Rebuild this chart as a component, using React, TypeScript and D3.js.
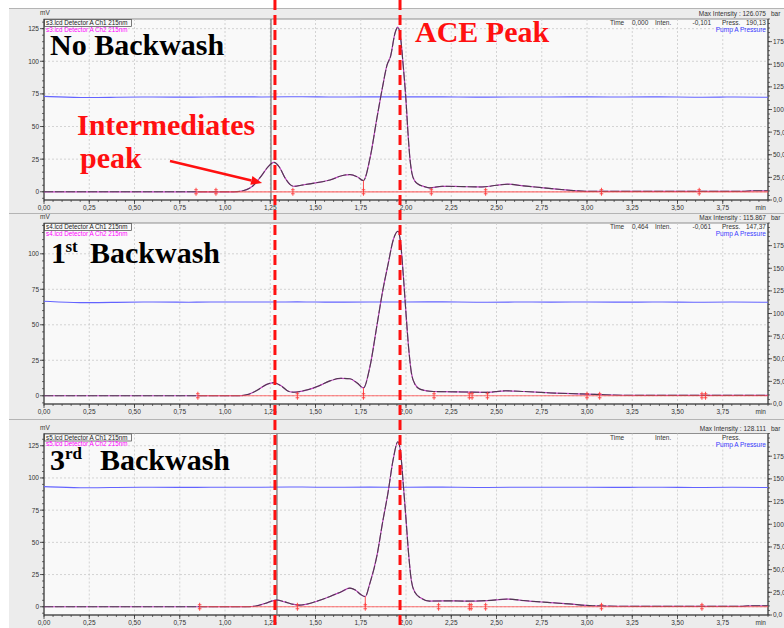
import React from "react";
import * as d3 from "d3";

type Pt = [number, number];

// Retention-time axis (min)
const timeTicks = [0, 0.25, 0.5, 0.75, 1, 1.25, 1.5, 1.75, 2, 2.25, 2.5, 2.75, 3, 3.25, 3.5, 3.75];
const pressureTicks = [0, 25, 50, 75, 100, 125, 150, 175];

// Detector signal (mV) per run, [time, mV]
const noBackwashTrace: Pt[] = [
  [0, 0], [1.05, 0], [1.1, 0.8], [1.15, 4], [1.2, 12], [1.24, 19.5], [1.27, 22.5], [1.3, 19],
  [1.33, 11], [1.36, 5.5], [1.38, 4.2], [1.42, 5], [1.5, 6.8], [1.58, 9], [1.65, 12.5], [1.69, 13.2],
  [1.73, 11.5], [1.765, 8.6], [1.8, 25], [1.84, 57], [1.87, 80], [1.895, 97], [1.915, 104], [1.94, 122],
  [1.955, 126.1], [1.97, 118], [1.985, 96], [2.0, 70], [2.011, 45], [2.022, 25], [2.033, 14], [2.05, 8],
  [2.066, 6], [2.1, 4], [2.13, 3], [2.2, 4.2], [2.3, 4], [2.42, 3.7], [2.5, 5], [2.56, 5.8], [2.65, 4.5],
  [2.75, 3.2], [2.9, 1.2], [3.0, 0.3], [3.86, 0.3], [3.92, 0.8], [4.0, 0.8],
];
const firstBackwashTrace: Pt[] = [
  [0, 0], [1.08, 0], [1.13, 1], [1.18, 4], [1.23, 8], [1.27, 9.2], [1.31, 7], [1.35, 3.2], [1.38, 2.5],
  [1.45, 4], [1.52, 7], [1.58, 10.5], [1.64, 12.3], [1.69, 12], [1.73, 9], [1.765, 5.5], [1.8, 20],
  [1.84, 50], [1.87, 73], [1.9, 92], [1.93, 110], [1.955, 115.9], [1.97, 108], [1.985, 85], [2.0, 58],
  [2.015, 33], [2.03, 16], [2.05, 8], [2.08, 4.5], [2.15, 3], [2.25, 2.8], [2.35, 2.6], [2.45, 2.4],
  [2.55, 3.5], [2.65, 3], [2.8, 2], [3.0, 1.2], [3.1, 0.7], [3.3, 0.3], [4.0, 0.3],
];
const thirdBackwashTrace: Pt[] = [
  [0, 0], [1.12, 0], [1.17, 0.6], [1.22, 2.5], [1.285, 5.2], [1.33, 3.8], [1.38, 1.8], [1.41, 1.3],
  [1.46, 2.3], [1.51, 4.4], [1.58, 8], [1.64, 11.5], [1.69, 14.5], [1.72, 13], [1.75, 9.5], [1.775, 7.9],
  [1.8, 18], [1.84, 40], [1.87, 65], [1.9, 88], [1.93, 115], [1.955, 128.1], [1.97, 120], [1.985, 95],
  [2.0, 68], [2.015, 40], [2.03, 20], [2.05, 11], [2.08, 7], [2.13, 4.4], [2.25, 4.6], [2.32, 4.4],
  [2.45, 4.8], [2.56, 6], [2.65, 4.8], [2.78, 3.4], [2.9, 2.2], [3.03, 0.8], [3.3, 0.3], [3.85, 0.3],
  [3.9, 0.8], [4.0, 0.8],
];

// Pump A pressure (bar), sampled every 0.2 min
const pressureTimes = [0, 0.2, 0.4, 0.6, 0.8, 1, 1.2, 1.4, 1.6, 1.8, 2, 2.2, 2.4, 2.6, 2.8, 3, 3.2, 3.4, 3.6, 3.8, 4];
const noBackwashPressure = [114.5, 112.8, 113.6, 113.9, 113.5, 114.2, 113.7, 114.3, 113.6, 114.1, 113.8, 114.2, 113.4, 114.0, 113.7, 114.1, 113.6, 114.2, 113.3, 114.0, 113.5];
const firstBackwashPressure = [113.5, 111.6, 112.4, 112.8, 112.3, 112.9, 112.5, 113.0, 112.4, 112.9, 112.6, 113.0, 112.2, 112.8, 112.5, 112.9, 112.3, 113.0, 112.2, 112.8, 112.4];
const thirdBackwashPressure = [141.5, 139.8, 140.6, 140.9, 140.4, 141.0, 140.6, 141.2, 140.5, 141.0, 140.7, 141.1, 140.3, 140.9, 140.6, 141.0, 140.4, 141.1, 140.3, 140.9, 140.5];

// Integration marks on the baseline (min)
const noBackwashMarks = [0.84, 0.95, 1.375, 1.765, 2.14, 2.44, 3.08, 3.62];
const firstBackwashMarks = [0.85, 1.4, 1.765, 2.155, 2.35, 2.365, 2.45, 3.0, 3.07, 3.635, 3.655];
const thirdBackwashMarks = [0.86, 1.4, 1.775, 2.18, 2.35, 2.36, 2.44, 3.08, 3.635];
const dropLineTimes = [1.765, 1.765, 1.775];

const leftTicksNo = [0, 25, 50, 75, 100, 125];
const leftTicksFirst = [0, 25, 50, 75, 100];
const leftTicksThird = [0, 25, 50, 75, 100, 125];

const maxIntensities = ["126.075", "115.867", "128.111"];
const cursorTimes = ["0,000", "0,464", ""];
const cursorIntens = ["-0,101", "-0,061", ""];
const cursorPress = ["190,13", "147,37", ""];
const fileNames = ["s3.lcd", "s4.lcd", "s5.lcd"];

// Vertical reference lines (min): intermediates and ACE retention times
const referenceTimes = [1.276, 1.967];
const cursorLineTimes = [1.254, null, 1.287];

const X_MAX = 4.0;
const PLOT_LEFT = 44;
const PLOT_RIGHT = 768;
const SANS = "'Liberation Sans', Arial, sans-serif";
const SERIF = "'Liberation Serif', 'Times New Roman', serif";
const RED = "#ff1010";

const x = d3.scaleLinear().domain([0, X_MAX]).range([PLOT_LEFT, PLOT_RIGHT]);

type PanelCfg = {
  idx: number;
  boxTop: number;
  boxBottom: number;
  top: number;
  bottom: number;
  yDomain: [number, number];
  leftTicks: number[];
  trace: Pt[];
  pressure: number[];
  marks: number[];
  baselineStart: number;
};

const panels: PanelCfg[] = [
  { idx: 0, boxTop: 8, boxBottom: 213, top: 19, bottom: 200, yDomain: [-6.3, 132.4], leftTicks: leftTicksNo, trace: noBackwashTrace, pressure: noBackwashPressure, marks: noBackwashMarks, baselineStart: 0.84 },
  { idx: 1, boxTop: 213, boxBottom: 419, top: 223, bottom: 404, yDomain: [-5.8, 121.7], leftTicks: leftTicksFirst, trace: firstBackwashTrace, pressure: firstBackwashPressure, marks: firstBackwashMarks, baselineStart: 0.85 },
  { idx: 2, boxTop: 419, boxBottom: 640, top: 433.5, bottom: 615, yDomain: [-6.4, 134.5], leftTicks: leftTicksThird, trace: thirdBackwashTrace, pressure: thirdBackwashPressure, marks: thirdBackwashMarks, baselineStart: 0.86 },
];

const fmtTime = (t: number) => t.toFixed(2).replace(".", ",");
const fmtBar = (v: number) => v.toFixed(1).replace(".", ",");

function Panel({ cfg }: { cfg: PanelCfg }) {
  const y = d3.scaleLinear().domain(cfg.yDomain).range([cfg.bottom, cfg.top]);
  const yP = d3.scaleLinear().domain([0, 200]).range([cfg.bottom, cfg.top]);
  const line = d3.line<Pt>().x((d) => x(d[0])).y((d) => y(d[1])).curve(d3.curveMonotoneX);
  const pLine = d3
    .line<number>()
    .x((_, i) => x(pressureTimes[i]))
    .y((d) => yP(d))
    .curve(d3.curveBasis);
  const clipId = `clip-${cfg.idx}`;
  const minorY = d3.range(-5, cfg.yDomain[1], 5);
  const minorX = d3.range(0, X_MAX + 0.001, 0.05);
  const minorP = d3.range(0, 201, 5);
  const dropT = dropLineTimes[cfg.idx];
  const dropPt = cfg.trace.find((d) => Math.abs(d[0] - dropT) < 1e-6);
  const y0 = y(0);
  const cursorT = cursorLineTimes[cfg.idx];
  const hdrY = cfg.top + 6;
  const tracePath = line(cfg.trace) || "";
  return (
    <g>
      <rect x={9} y={cfg.boxTop} width={775} height={cfg.boxBottom - cfg.boxTop} fill="#ececec" />
      <line x1={9} x2={784} y1={cfg.boxTop + 0.5} y2={cfg.boxTop + 0.5} stroke="#b4b4b4" strokeWidth={1} />
      <rect x={PLOT_LEFT} y={cfg.top} width={PLOT_RIGHT - PLOT_LEFT} height={cfg.bottom - cfg.top} fill="#f9f9f9" stroke="#777" strokeWidth={0.8} />
      <defs>
        <clipPath id={clipId}>
          <rect x={PLOT_LEFT} y={cfg.top} width={PLOT_RIGHT - PLOT_LEFT} height={cfg.bottom - cfg.top} />
        </clipPath>
      </defs>
      {/* grid */}
      {timeTicks.filter((t) => t > 0).map((t) => (
        <line key={`gx${t}`} x1={x(t)} x2={x(t)} y1={cfg.top} y2={cfg.bottom} stroke="#c9c9c9" strokeWidth={0.8} strokeDasharray="2,2" />
      ))}
      {cfg.leftTicks.map((v) => (
        <line key={`gy${v}`} x1={PLOT_LEFT} x2={PLOT_RIGHT} y1={y(v)} y2={y(v)} stroke="#c9c9c9" strokeWidth={0.8} strokeDasharray="2,2" />
      ))}
      {/* axes */}
      <line x1={PLOT_LEFT} x2={PLOT_LEFT} y1={cfg.top} y2={cfg.bottom} stroke="#333" strokeWidth={1} />
      <line x1={PLOT_LEFT} x2={PLOT_RIGHT} y1={cfg.bottom} y2={cfg.bottom} stroke="#333" strokeWidth={1} />
      <line x1={PLOT_RIGHT} x2={PLOT_RIGHT} y1={cfg.top} y2={cfg.bottom} stroke="#333" strokeWidth={1} />
      {minorY.map((v) => (
        <line key={`my${v}`} x1={PLOT_LEFT - 2} x2={PLOT_LEFT} y1={y(v)} y2={y(v)} stroke="#333" strokeWidth={0.7} />
      ))}
      {cfg.leftTicks.map((v) => (
        <g key={`ly${v}`}>
          <line x1={PLOT_LEFT - 4} x2={PLOT_LEFT} y1={y(v)} y2={y(v)} stroke="#333" strokeWidth={0.8} />
          <text x={PLOT_LEFT - 5} y={y(v) + 2.4} fontSize={6.5} fontFamily={SANS} fill="#333" textAnchor="end">{v}</text>
        </g>
      ))}
      {minorX.map((t, i) => (
        <line key={`mx${i}`} x1={x(t)} x2={x(t)} y1={cfg.bottom} y2={cfg.bottom + 2} stroke="#333" strokeWidth={0.7} />
      ))}
      {timeTicks.map((t) => (
        <g key={`lx${t}`}>
          <line x1={x(t)} x2={x(t)} y1={cfg.bottom} y2={cfg.bottom + 4} stroke="#333" strokeWidth={0.8} />
          <text x={x(t)} y={cfg.bottom + 10} fontSize={6.5} fontFamily={SANS} fill="#333" textAnchor="middle">{fmtTime(t)}</text>
        </g>
      ))}
      <text x={PLOT_RIGHT - 2} y={cfg.bottom + 10} fontSize={6.5} fontFamily={SANS} fill="#333" textAnchor="end">min</text>
      {minorP.map((v) => (
        <line key={`mp${v}`} x1={PLOT_RIGHT} x2={PLOT_RIGHT + 2} y1={yP(v)} y2={yP(v)} stroke="#333" strokeWidth={0.7} />
      ))}
      {pressureTicks.map((v) => (
        <g key={`rp${v}`}>
          <line x1={PLOT_RIGHT} x2={PLOT_RIGHT + 4} y1={yP(v)} y2={yP(v)} stroke="#333" strokeWidth={0.8} />
          <text x={PLOT_RIGHT + 5} y={yP(v) + 2.4} fontSize={6.5} fontFamily={SANS} fill="#333">{fmtBar(v)}</text>
        </g>
      ))}
      {/* header texts */}
      <text x={PLOT_LEFT - 4} y={cfg.top - 4} fontSize={6.5} fontFamily={SANS} fill="#333">mV</text>
      <text x={PLOT_RIGHT - 2} y={cfg.top - 3} fontSize={6.5} fontFamily={SANS} fill="#333" textAnchor="end">{`Max Intensity : ${maxIntensities[cfg.idx]}`}</text>
      <text x={PLOT_RIGHT + 3} y={cfg.top - 3} fontSize={6.5} fontFamily={SANS} fill="#333">bar</text>
      <text x={610} y={hdrY} fontSize={6.5} fontFamily={SANS} fill="#333">Time</text>
      <text x={632} y={hdrY} fontSize={6.5} fontFamily={SANS} fill="#333">{cursorTimes[cfg.idx]}</text>
      <text x={655} y={hdrY} fontSize={6.5} fontFamily={SANS} fill="#333">Inten.</text>
      <text x={711} y={hdrY} fontSize={6.5} fontFamily={SANS} fill="#333" textAnchor="end">{cursorIntens[cfg.idx]}</text>
      <text x={722} y={hdrY} fontSize={6.5} fontFamily={SANS} fill="#333">Press.</text>
      <text x={746} y={hdrY} fontSize={6.5} fontFamily={SANS} fill="#333">{cursorPress[cfg.idx]}</text>
      <text x={PLOT_RIGHT - 2} y={hdrY + 7} fontSize={6.5} fontFamily={SANS} fill="#3a3aff" textAnchor="end">Pump A Pressure</text>
      <rect x={PLOT_LEFT + 0.5} y={cfg.top + 0.5} width={87} height={7} fill="none" stroke="#444" strokeWidth={0.7} />
      <text x={PLOT_LEFT + 2} y={cfg.top + 6.3} fontSize={6.3} fontFamily={SANS} fill="#222">{`${fileNames[cfg.idx]} Detector A Ch1 215nm`}</text>
      <text x={PLOT_LEFT + 2} y={cfg.top + 12.8} fontSize={6.3} fontFamily={SANS} fill="#ff00ff">{`${fileNames[cfg.idx]} Detector A Ch2 215nm`}</text>
      <g clipPath={`url(#${clipId})`}>
        {/* pump pressure */}
        <path d={pLine(cfg.pressure) || ""} fill="none" stroke="#6363ff" strokeWidth={1.1} />
        {cursorT !== null && (
          <line x1={x(cursorT)} x2={x(cursorT)} y1={cfg.top} y2={cfg.bottom} stroke="#707070" strokeWidth={1.2} />
        )}
        {/* Ch2 (magenta) under Ch1 (black) */}
        <path d={tracePath} fill="none" stroke="#c040c0" strokeWidth={1.2} />
        <path d={tracePath} fill="none" stroke="#3a3a3a" strokeWidth={1.1} strokeOpacity={0.85} strokeDasharray="9,2" />
        {/* integration baseline */}
        <line x1={x(cfg.baselineStart)} x2={x(X_MAX)} y1={y0} y2={y0} stroke="#ff4d4d" strokeWidth={1.2} strokeOpacity={0.8} />
        {dropPt && (
          <line x1={x(dropPt[0])} x2={x(dropPt[0])} y1={y0} y2={y(dropPt[1])} stroke="#ff4d4d" strokeWidth={1} />
        )}
        {cfg.marks.map((t, i) => (
          <g key={`mk${i}`} stroke="#ff3b3b" strokeWidth={0.9}>
            <line x1={x(t)} x2={x(t)} y1={y0 - 4} y2={y0 + 4} />
            <line x1={x(t) - 1.8} x2={x(t) + 1.8} y1={y0 - 2} y2={y0 - 2} />
            <line x1={x(t) - 1.8} x2={x(t) + 1.8} y1={y0 + 2} y2={y0 + 2} />
          </g>
        ))}
      </g>
    </g>
  );
}

export default function App() {
  const p1 = panels[0];
  const y1 = d3.scaleLinear().domain(p1.yDomain).range([p1.bottom, p1.top]);
  // arrow from the label toward the intermediates peak (time, mV)
  const arrowFrom: Pt = [0.696, 23.6];
  const arrowTo: Pt = [1.205, 6.7];
  const ax1 = x(arrowFrom[0]), ay1 = y1(arrowFrom[1]);
  const ax2 = x(arrowTo[0]), ay2 = y1(arrowTo[1]);
  const ang = Math.atan2(ay2 - ay1, ax2 - ax1);
  const headLen = 11, headW = 4.5;
  const bx = ax2 - headLen * Math.cos(ang), by = ay2 - headLen * Math.sin(ang);
  const head = [
    [ax2, ay2],
    [bx + headW * Math.sin(ang), by - headW * Math.cos(ang)],
    [bx - headW * Math.sin(ang), by + headW * Math.cos(ang)],
  ];
  return (
    <div style={{ position: "absolute", left: 0, top: 0 }}>
      <svg width={784} height={628} viewBox="0 0 784 628" style={{ display: "block", background: "#fff" }}>
        {panels.map((p) => (
          <Panel key={p.idx} cfg={p} />
        ))}
        {/* run titles */}
        <text x={50} y={55} fontSize={30} fontWeight="bold" fontFamily={SERIF} fill="#000">No Backwash</text>
        <text y={262.5} fontSize={30} fontWeight="bold" fontFamily={SERIF} fill="#000">
          <tspan x={51}>1</tspan>
          <tspan x={65.5} dy={-11} fontSize={17}>st</tspan>
          <tspan x={90} dy={11}>Backwash</tspan>
        </text>
        <text y={470} fontSize={30} fontWeight="bold" fontFamily={SERIF} fill="#000">
          <tspan x={50}>3</tspan>
          <tspan x={65} dy={-11} fontSize={17}>rd</tspan>
          <tspan x={100} dy={11}>Backwash</tspan>
        </text>
        {/* annotations */}
        <text x={415} y={42} fontSize={30} fontWeight="bold" fontFamily={SERIF} fill={RED}>ACE Peak</text>
        <text x={77} y={135} fontSize={30} fontWeight="bold" fontFamily={SERIF} fill={RED}>Intermediates</text>
        <text x={80} y={168} fontSize={30} fontWeight="bold" fontFamily={SERIF} fill={RED}>peak</text>
        <line x1={ax1} y1={ay1} x2={bx} y2={by} stroke={RED} strokeWidth={2.6} />
        <polygon points={head.map((d) => d.join(",")).join(" ")} fill={RED} />
        {referenceTimes.map((t) => (
          <line key={`ref${t}`} x1={x(t)} x2={x(t)} y1={0} y2={628} stroke={RED} strokeWidth={3} strokeDasharray="10,5" />
        ))}
      </svg>
    </div>
  );
}
